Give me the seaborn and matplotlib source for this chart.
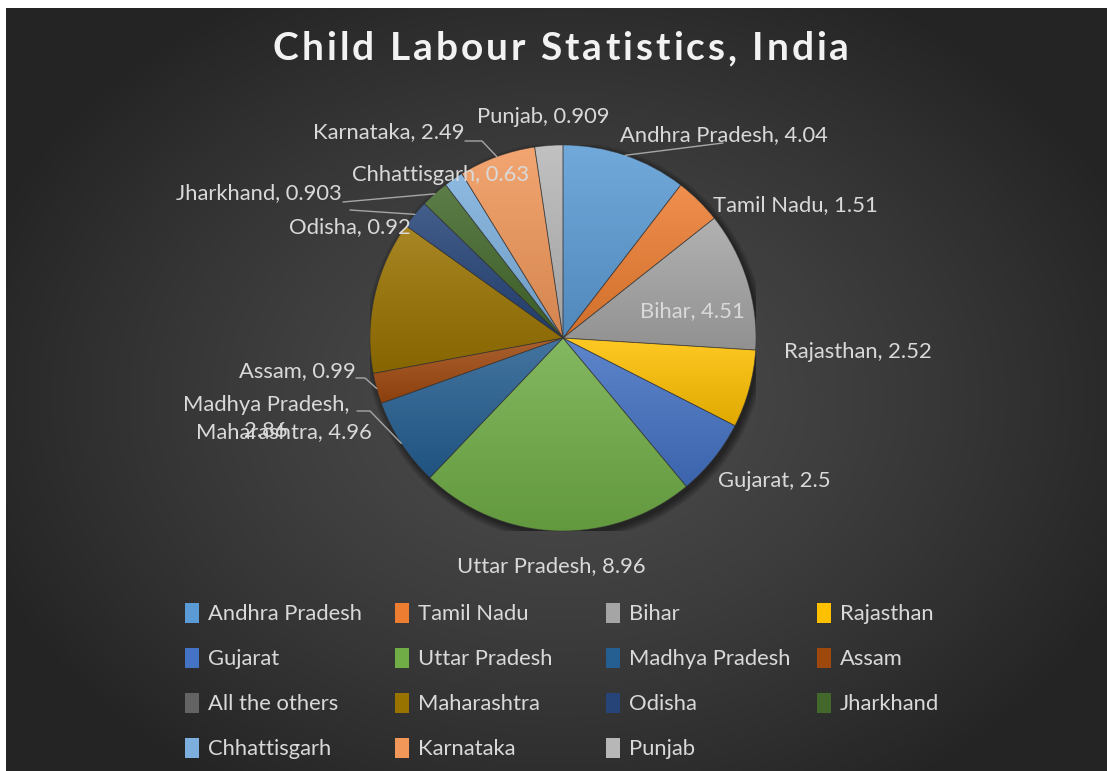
import numpy as np
import matplotlib
matplotlib.use("Agg")
import matplotlib.pyplot as plt
from matplotlib.patches import Patch, Circle
from matplotlib.colors import to_rgb
from matplotlib.font_manager import FontProperties
import seaborn as sns

# ---- data -------------------------------------------------------------
states = ["Andhra Pradesh", "Tamil Nadu", "Bihar", "Rajasthan", "Gujarat",
          "Uttar Pradesh", "Madhya Pradesh", "Assam", "All the others",
          "Maharashtra", "Odisha", "Jharkhand", "Chhattisgarh", "Karnataka",
          "Punjab"]
values = [4.04, 1.51, 4.51, 2.52, 2.5, 8.96, 2.86, 0.99, 0.0,
          4.96, 0.92, 0.903, 0.63, 2.49, 0.909]
slice_colors = ["#5B9BD5", "#ED7D31", "#A5A5A5", "#FFC000", "#4472C4",
                "#70AD47", "#255E91", "#9E480E", "#636363", "#997300",
                "#264478", "#43682B", "#7CAFDD", "#F1975A", "#B7B7B7"]
title = "Child Labour Statistics, India"

# ---- style ------------------------------------------------------------
sns.set_theme(style="dark")
plt.rcParams["font.family"] = ["Lato", "DejaVu Sans"]
palette = sns.color_palette(slice_colors)
TEXT = "#d9d9d9"
FS = 15.8

W, H = 1107, 771
fig = plt.figure(figsize=(W / 100, H / 100), dpi=100, facecolor="white")

# dark radial backdrop
bg = fig.add_axes([6 / W, 0, (W - 6) / W, (H - 8) / H], zorder=-10)
yy, xx = np.mgrid[0:H - 8, 0:W - 6]
d = np.sqrt(((xx - 555) / 620.0) ** 2 + ((yy - 390) / 470.0) ** 2)
t = np.clip(d, 0, 1) ** 1.3
shade = (0x4c + (0x24 - 0x4c) * t) / 255.0
bg.imshow(np.dstack([shade] * 3), aspect="auto", interpolation="bilinear")
bg.set_axis_off()

# pie axes: centre and radius in pixels
cx, cy, R = 563, 338, 193
ax = fig.add_axes([(cx - R) / W, (H - cy - R) / H, 2 * R / W, 2 * R / H])


def px(x, y):
    """pixel position -> pie data coordinates"""
    return (x - cx) / R, (cy - y) / R


# soft shadow under the pie
for k in range(10):
    ax.add_patch(Circle((0.012, -0.018), 1.0 + 0.004 * k, facecolor="black",
                        alpha=0.05, edgecolor="none", zorder=0.5))

wedges, _ = ax.pie(values, colors=palette, startangle=90, counterclock=False,
                   radius=1.0,
                   wedgeprops=dict(edgecolor=(0.2, 0.2, 0.2, 0.55), linewidth=0.6))

# vertical light-to-dark fill inside every slice
for w, c in zip(wedges, palette):
    w.set_zorder(2)
    if w.theta2 - w.theta1 <= 0:
        w.set_linewidth(0)
        continue
    base = np.array(to_rgb(c))
    top = base + (1 - base) * 0.14
    bot = base * 0.88
    f = np.linspace(0, 1, 256)[:, None, None]
    grad = top[None, None, :] * (1 - f) + bot[None, None, :] * f
    ext = w.get_path().get_extents()
    im = ax.imshow(grad, extent=[ext.x0, ext.x1, ext.y0, ext.y1],
                   aspect="auto", interpolation="bilinear", zorder=1.5)
    im.set_clip_path(w)
    w.set_facecolor("none")

ax.set_xlim(-1, 1)
ax.set_ylim(-1, 1)
ax.set_aspect("auto")
ax.set_axis_off()

# ---- data labels ------------------------------------------------------
# label centre (pixels) and optional leader-line waypoints (pixels)
label_layout = {
    "Andhra Pradesh": ((724, 135), [(723, 143)]),
    "Tamil Nadu": ((795, 205), None),
    "Bihar": ((692, 311), None),
    "Rajasthan": ((858, 352), None),
    "Gujarat": ((774, 481), None),
    "Uttar Pradesh": ((551, 566), None),
    "Madhya Pradesh": ((266, 418), [(357, 411), (370, 411)]),
    "Assam": ((297, 371), [(356, 378), (365, 378)]),
    "Maharashtra": ((284, 432), None),
    "Odisha": ((350, 227), [(350, 210)]),
    "Jharkhand": ((259, 193), [(343, 202)]),
    "Chhattisgarh": ((441, 175), None),
    "Karnataka": ((389, 132), [(465, 141), (482, 141)]),
    "Punjab": ((543, 117), None),
}

for name, val, w in zip(states, values, wedges):
    if name not in label_layout:
        continue
    (tx, ty), leader = label_layout[name]
    sep = ",\n" if name == "Madhya Pradesh" else ", "
    x, y = px(tx, ty)
    ax.text(x, y, f"{name}{sep}{val:g}", ha="center", va="center",
            color=TEXT, fontsize=FS, linespacing=1.35, clip_on=False, zorder=5)
    if leader:
        mid = np.deg2rad((w.theta1 + w.theta2) / 2)
        pts = [px(*p) for p in leader] + [(np.cos(mid), np.sin(mid))]
        xs, ys = zip(*pts)
        ax.plot(xs, ys, color="#a6a6a6", lw=1.0, clip_on=False, zorder=4)

# ---- title with letter spacing ----------------------------------------
tprop = FontProperties(family=["Lato", "DejaVu Sans"], weight="bold", size=28)
renderer = fig.canvas.get_renderer()
track = 3.0  # extra pixels between letters


def text_w(s):
    if not s:
        return 0.0
    return renderer.get_text_width_height_descent(s, tprop, ismath=False)[0]


total = text_w(title) + track * (len(title) - 1)
x_start = 561 - total / 2
for i, ch in enumerate(title):
    if ch == " ":
        continue
    xo = x_start + text_w(title[:i]) + track * i
    fig.text(xo / W, 1 - 49 / H, ch, ha="left", va="center",
             fontproperties=tprop, color="#f2f2f2")

# ---- legend: four columns filled row by row ---------------------------
col_x = [185, 395, 606, 817]
for j, x0 in enumerate(col_x):
    idx = [i for i in range(j, len(states), 4)]
    handles = [Patch(facecolor=palette[i], edgecolor="none") for i in idx]
    fig.legend(handles, [states[i] for i in idx], loc="upper left",
               bbox_to_anchor=(x0 / W, 1 - 603 / H), frameon=False,
               fontsize=FS, labelcolor=TEXT, borderpad=0,
               borderaxespad=0, handlelength=0.62, handleheight=1.0,
               handletextpad=0.42, labelspacing=1.08)

fig.savefig("out.png", dpi=100)
